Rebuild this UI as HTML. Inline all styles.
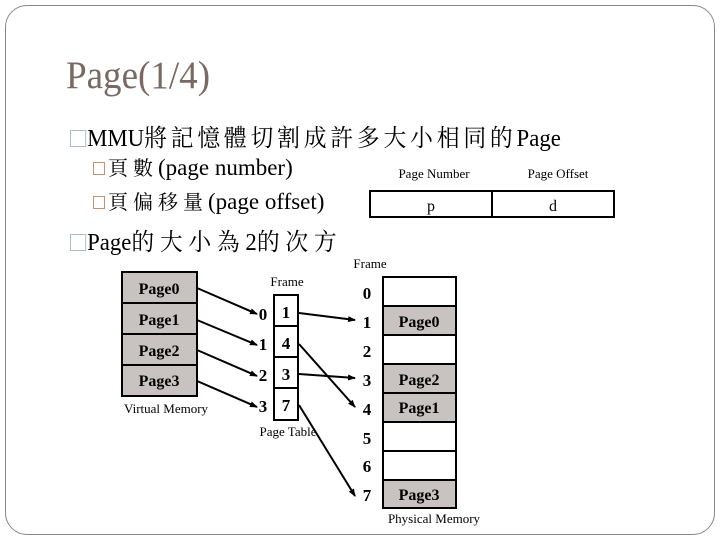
<!DOCTYPE html>
<html><head><meta charset="utf-8"><style>
body{margin:0;width:720px;height:540px;background:#fff;position:relative;overflow:hidden;font-family:"Liberation Serif","Noto Serif CJK SC","Noto Sans CJK TC",serif;}
.t{position:absolute;white-space:nowrap;color:#000;}
.big{transform:scaleX(0.95);transform-origin:0 0;font-size:24px;}
.big .c{letter-spacing:4px;}
.sub{font-size:23px;}
.sub .c{font-size:20px;letter-spacing:5px;}
.b1{display:inline-block;width:15px;height:15px;border:1.5px solid #a9bccb;margin-right:1px;vertical-align:-1px;}
.b2{display:inline-block;width:10px;height:11px;border:1.5px solid #c9906a;margin-right:3px;vertical-align:0px;}
</style></head><body>
<div style="position:absolute;left:5px;top:5px;width:708px;height:528px;border:1px solid #888;border-radius:22px;"></div>
<div class="t" style="left:66px;top:53px;font-size:39px;color:#786a62;transform:scaleX(0.95);transform-origin:0 0;">Page(1/4)</div>
<div class="t big" style="left:70px;top:118px;"><span class="b1"></span>MMU<span class="c">將記憶體切割成許多大小相同的</span>Page</div>
<div class="t sub" style="left:93px;top:152px;"><span class="b2"></span><span class="c">頁數</span>(page number)</div>
<div class="t sub" style="left:93px;top:186px;"><span class="b2"></span><span class="c">頁偏移量</span>(page offset)</div>
<div class="t big" style="left:70px;top:222px;"><span class="b1"></span>Page<span class="c" style="letter-spacing:6px">的大小為</span>2<span class="c" style="letter-spacing:6px">的次方</span></div>
<svg width="720" height="540" style="position:absolute;left:0;top:0" font-family="Liberation Serif, serif">
<defs><marker id="a" markerWidth="8" markerHeight="8" refX="7" refY="4" orient="auto" markerUnits="userSpaceOnUse"><path d="M0,1 L8,4 L0,7 z" fill="#000"/></marker></defs>
<text x="434" y="178" font-size="13" text-anchor="middle">Page Number</text>
<text x="558" y="178" font-size="13" text-anchor="middle">Page Offset</text>
<rect x="370" y="191" width="244" height="26" fill="#fff" stroke="#000" stroke-width="2"/>
<line x1="492" y1="191" x2="492" y2="217" stroke="#000" stroke-width="2"/>
<text x="431" y="211" font-size="16" text-anchor="middle">p</text>
<text x="553" y="211" font-size="16" text-anchor="middle">d</text>
<g stroke="#000" stroke-width="2" fill="#c8c3c0">
<rect x="122" y="272" width="75" height="31"/><rect x="122" y="303" width="75" height="31"/><rect x="122" y="334" width="75" height="31"/><rect x="122" y="365" width="75" height="31"/>
</g>
<g font-size="16" font-weight="bold" text-anchor="middle">
<text x="159" y="294">Page0</text><text x="159" y="325">Page1</text><text x="159" y="356">Page2</text><text x="159" y="386">Page3</text>
</g>
<text x="166" y="413" font-size="13" text-anchor="middle">Virtual Memory</text>
<text x="287" y="286" font-size="13" text-anchor="middle">Frame</text>
<g stroke="#000" stroke-width="2" fill="#fff">
<rect x="274" y="295" width="24" height="31"/><rect x="274" y="326" width="24" height="31"/><rect x="274" y="357" width="24" height="31"/><rect x="274" y="388" width="24" height="32"/>
</g>
<g font-size="17" font-weight="bold" text-anchor="middle">
<text x="286" y="318">1</text><text x="286" y="349">4</text><text x="286" y="380">3</text><text x="286" y="411">7</text>
<text x="263" y="320">0</text><text x="263" y="350">1</text><text x="263" y="381">2</text><text x="263" y="412">3</text>
</g>
<text x="288" y="436" font-size="13" text-anchor="middle">Page Table</text>
<text x="370" y="268" font-size="13" text-anchor="middle">Frame</text>
<g stroke="#000" stroke-width="2">
<rect x="383" y="277" width="73" height="29" fill="#fff"/>
<rect x="383" y="306" width="73" height="29" fill="#c8c3c0"/>
<rect x="383" y="335" width="73" height="29" fill="#fff"/>
<rect x="383" y="364" width="73" height="29" fill="#c8c3c0"/>
<rect x="383" y="393" width="73" height="29" fill="#c8c3c0"/>
<rect x="383" y="422" width="73" height="29" fill="#fff"/>
<rect x="383" y="451" width="73" height="29" fill="#fff"/>
<rect x="383" y="480" width="73" height="28" fill="#c8c3c0"/>
</g>
<g font-size="16" font-weight="bold" text-anchor="middle">
<text x="419" y="327">Page0</text><text x="419" y="385">Page2</text><text x="419" y="413">Page1</text><text x="419" y="500">Page3</text>
</g>
<g font-size="17" font-weight="bold" text-anchor="middle">
<text x="367" y="299">0</text><text x="367" y="328">1</text><text x="367" y="357">2</text><text x="367" y="386">3</text><text x="367" y="415">4</text><text x="367" y="444">5</text><text x="367" y="472">6</text><text x="367" y="501">7</text>
</g>
<text x="434" y="523" font-size="13" text-anchor="middle">Physical Memory</text>
<g stroke="#000" stroke-width="2" marker-end="url(#a)">
<line x1="197" y1="288" x2="257" y2="314"/>
<line x1="197" y1="320" x2="257" y2="345"/>
<line x1="197" y1="350" x2="257" y2="376"/>
<line x1="197" y1="381" x2="257" y2="407"/>
<line x1="299" y1="313" x2="355" y2="320"/>
<line x1="299" y1="344" x2="355" y2="407"/>
<line x1="299" y1="374" x2="355" y2="378"/>
<line x1="299" y1="405" x2="355" y2="496"/>
</g>
</svg>
</body></html>
